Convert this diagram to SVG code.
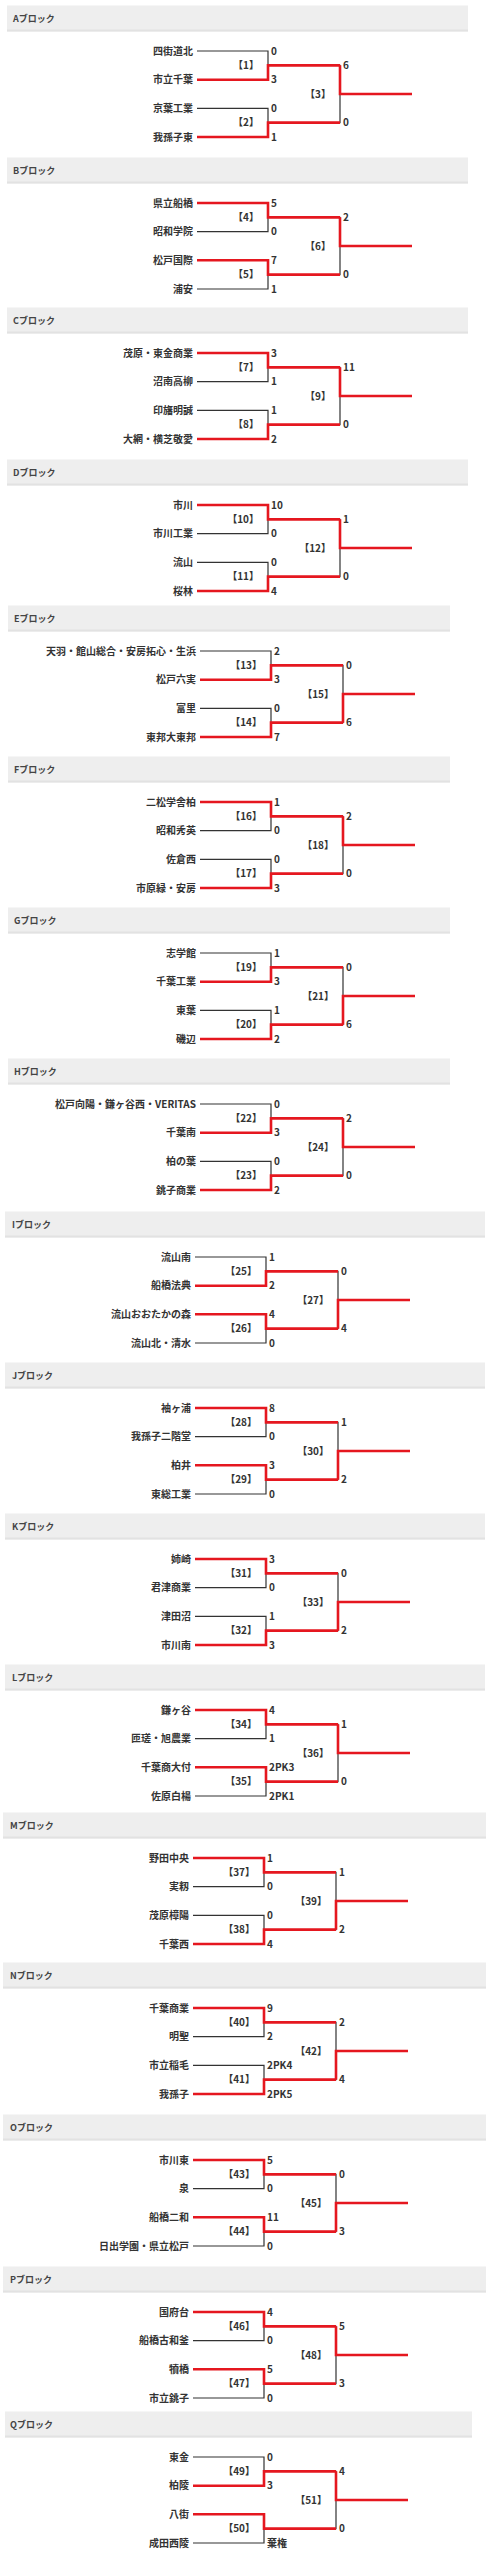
<svg xmlns="http://www.w3.org/2000/svg" xmlns:xlink="http://www.w3.org/1999/xlink" width="488" height="2560" viewBox="0 0 488 2560">
<style>
text{font-family:"Noto Sans CJK JP","Noto Sans",sans-serif;fill:#333;font-weight:bold}
.tm{font-size:10px;text-anchor:end}
.sc{font-size:10px;text-anchor:start}
.mt{font-size:10px;text-anchor:end}
.hd{font-size:9px;fill:#444}
.hdr{fill:#eeeeee}
.hdb{fill:#e2e2e2}
.ln{fill:none;stroke:#333;stroke-width:1.2}
.win{fill:none;stroke:#e5171f;stroke-width:2.6}
</style>
<defs>
<path id="br" class="ln" d="M197 0H268V28.7H197M197 57.3H268V86H197M268 14.35H340V71.65H268M340 43H412"/>
<path id="w1t" class="win" d="M197 0H268V14.35H340"/>
<path id="w1b" class="win" d="M197 28.7H268V14.35H340"/>
<path id="w2t" class="win" d="M197 57.3H268V71.65H340"/>
<path id="w2b" class="win" d="M197 86H268V71.65H340"/>
<path id="wft" class="win" d="M340 14.35V43H412"/>
<path id="wfb" class="win" d="M340 71.65V43H412"/>
</defs>

<g id="block-A" transform="translate(0,51)">
<g id="A-header"><rect class="hdr" x="7" y="-45.5" width="461" height="26"/><rect class="hdb" x="7" y="-21.5" width="461" height="2"/><text class="hd" x="13" y="-29.5">Aブロック</text></g>
<g id="A-connectors"><use href="#br"/><use href="#w1b"/><use href="#w2b"/><use href="#wft"/></g>
<g id="A-t1"><text class="tm" x="193" y="3.5">四街道北</text><text class="sc" x="271" y="3.5">0</text></g>
<g id="A-t2"><text class="tm" x="193" y="32.2">市立千葉</text><text class="sc" x="271" y="32.2">3</text></g>
<g id="A-t3"><text class="tm" x="193" y="60.8">京葉工業</text><text class="sc" x="271" y="60.8">0</text></g>
<g id="A-t4"><text class="tm" x="193" y="89.5">我孫子東</text><text class="sc" x="271" y="89.5">1</text></g>
<g id="A-m1"><text class="mt" x="259" y="17.85">【1】</text><text class="sc" x="343" y="17.85">6</text></g>
<g id="A-m2"><text class="mt" x="259" y="75.15">【2】</text><text class="sc" x="343" y="75.15">0</text></g>
<g id="A-m3"><text class="mt" x="331" y="46.5">【3】</text></g>
</g>

<g id="block-B" transform="translate(0,203)">
<g id="B-header"><rect class="hdr" x="7" y="-45.5" width="461" height="26"/><rect class="hdb" x="7" y="-21.5" width="461" height="2"/><text class="hd" x="13" y="-29.5">Bブロック</text></g>
<g id="B-connectors"><use href="#br"/><use href="#w1t"/><use href="#w2t"/><use href="#wft"/></g>
<g id="B-t1"><text class="tm" x="193" y="3.5">県立船橋</text><text class="sc" x="271" y="3.5">5</text></g>
<g id="B-t2"><text class="tm" x="193" y="32.2">昭和学院</text><text class="sc" x="271" y="32.2">0</text></g>
<g id="B-t3"><text class="tm" x="193" y="60.8">松戸国際</text><text class="sc" x="271" y="60.8">7</text></g>
<g id="B-t4"><text class="tm" x="193" y="89.5">浦安</text><text class="sc" x="271" y="89.5">1</text></g>
<g id="B-m1"><text class="mt" x="259" y="17.85">【4】</text><text class="sc" x="343" y="17.85">2</text></g>
<g id="B-m2"><text class="mt" x="259" y="75.15">【5】</text><text class="sc" x="343" y="75.15">0</text></g>
<g id="B-m3"><text class="mt" x="331" y="46.5">【6】</text></g>
</g>

<g id="block-C" transform="translate(0,353)">
<g id="C-header"><rect class="hdr" x="7" y="-45.5" width="461" height="26"/><rect class="hdb" x="7" y="-21.5" width="461" height="2"/><text class="hd" x="13" y="-29.5">Cブロック</text></g>
<g id="C-connectors"><use href="#br"/><use href="#w1t"/><use href="#w2b"/><use href="#wft"/></g>
<g id="C-t1"><text class="tm" x="193" y="3.5">茂原・東金商業</text><text class="sc" x="271" y="3.5">3</text></g>
<g id="C-t2"><text class="tm" x="193" y="32.2">沼南高柳</text><text class="sc" x="271" y="32.2">1</text></g>
<g id="C-t3"><text class="tm" x="193" y="60.8">印旛明誠</text><text class="sc" x="271" y="60.8">1</text></g>
<g id="C-t4"><text class="tm" x="193" y="89.5">大網・横芝敬愛</text><text class="sc" x="271" y="89.5">2</text></g>
<g id="C-m1"><text class="mt" x="259" y="17.85">【7】</text><text class="sc" x="343" y="17.85">11</text></g>
<g id="C-m2"><text class="mt" x="259" y="75.15">【8】</text><text class="sc" x="343" y="75.15">0</text></g>
<g id="C-m3"><text class="mt" x="331" y="46.5">【9】</text></g>
</g>

<g id="block-D" transform="translate(0,505)">
<g id="D-header"><rect class="hdr" x="7" y="-45.5" width="461" height="26"/><rect class="hdb" x="7" y="-21.5" width="461" height="2"/><text class="hd" x="13" y="-29.5">Dブロック</text></g>
<g id="D-connectors"><use href="#br"/><use href="#w1t"/><use href="#w2b"/><use href="#wft"/></g>
<g id="D-t1"><text class="tm" x="193" y="3.5">市川</text><text class="sc" x="271" y="3.5">10</text></g>
<g id="D-t2"><text class="tm" x="193" y="32.2">市川工業</text><text class="sc" x="271" y="32.2">0</text></g>
<g id="D-t3"><text class="tm" x="193" y="60.8">流山</text><text class="sc" x="271" y="60.8">0</text></g>
<g id="D-t4"><text class="tm" x="193" y="89.5">桜林</text><text class="sc" x="271" y="89.5">4</text></g>
<g id="D-m1"><text class="mt" x="259" y="17.85">【10】</text><text class="sc" x="343" y="17.85">1</text></g>
<g id="D-m2"><text class="mt" x="259" y="75.15">【11】</text><text class="sc" x="343" y="75.15">0</text></g>
<g id="D-m3"><text class="mt" x="331" y="46.5">【12】</text></g>
</g>

<g id="block-E" transform="translate(3,651)">
<g id="E-header"><rect class="hdr" x="5" y="-45.5" width="442" height="26"/><rect class="hdb" x="5" y="-21.5" width="442" height="2"/><text class="hd" x="11" y="-29.5">Eブロック</text></g>
<g id="E-connectors"><use href="#br"/><use href="#w1b"/><use href="#w2b"/><use href="#wfb"/></g>
<g id="E-t1"><text class="tm" x="193" y="3.5">天羽・館山総合・安房拓心・生浜</text><text class="sc" x="271" y="3.5">2</text></g>
<g id="E-t2"><text class="tm" x="193" y="32.2">松戸六実</text><text class="sc" x="271" y="32.2">3</text></g>
<g id="E-t3"><text class="tm" x="193" y="60.8">富里</text><text class="sc" x="271" y="60.8">0</text></g>
<g id="E-t4"><text class="tm" x="193" y="89.5">東邦大東邦</text><text class="sc" x="271" y="89.5">7</text></g>
<g id="E-m1"><text class="mt" x="259" y="17.85">【13】</text><text class="sc" x="343" y="17.85">0</text></g>
<g id="E-m2"><text class="mt" x="259" y="75.15">【14】</text><text class="sc" x="343" y="75.15">6</text></g>
<g id="E-m3"><text class="mt" x="331" y="46.5">【15】</text></g>
</g>

<g id="block-F" transform="translate(3,802)">
<g id="F-header"><rect class="hdr" x="5" y="-45.5" width="442" height="26"/><rect class="hdb" x="5" y="-21.5" width="442" height="2"/><text class="hd" x="11" y="-29.5">Fブロック</text></g>
<g id="F-connectors"><use href="#br"/><use href="#w1t"/><use href="#w2b"/><use href="#wft"/></g>
<g id="F-t1"><text class="tm" x="193" y="3.5">二松学舎柏</text><text class="sc" x="271" y="3.5">1</text></g>
<g id="F-t2"><text class="tm" x="193" y="32.2">昭和秀英</text><text class="sc" x="271" y="32.2">0</text></g>
<g id="F-t3"><text class="tm" x="193" y="60.8">佐倉西</text><text class="sc" x="271" y="60.8">0</text></g>
<g id="F-t4"><text class="tm" x="193" y="89.5">市原緑・安房</text><text class="sc" x="271" y="89.5">3</text></g>
<g id="F-m1"><text class="mt" x="259" y="17.85">【16】</text><text class="sc" x="343" y="17.85">2</text></g>
<g id="F-m2"><text class="mt" x="259" y="75.15">【17】</text><text class="sc" x="343" y="75.15">0</text></g>
<g id="F-m3"><text class="mt" x="331" y="46.5">【18】</text></g>
</g>

<g id="block-G" transform="translate(3,953)">
<g id="G-header"><rect class="hdr" x="5" y="-45.5" width="442" height="26"/><rect class="hdb" x="5" y="-21.5" width="442" height="2"/><text class="hd" x="11" y="-29.5">Gブロック</text></g>
<g id="G-connectors"><use href="#br"/><use href="#w1b"/><use href="#w2b"/><use href="#wfb"/></g>
<g id="G-t1"><text class="tm" x="193" y="3.5">志学館</text><text class="sc" x="271" y="3.5">1</text></g>
<g id="G-t2"><text class="tm" x="193" y="32.2">千葉工業</text><text class="sc" x="271" y="32.2">3</text></g>
<g id="G-t3"><text class="tm" x="193" y="60.8">東葉</text><text class="sc" x="271" y="60.8">1</text></g>
<g id="G-t4"><text class="tm" x="193" y="89.5">磯辺</text><text class="sc" x="271" y="89.5">2</text></g>
<g id="G-m1"><text class="mt" x="259" y="17.85">【19】</text><text class="sc" x="343" y="17.85">0</text></g>
<g id="G-m2"><text class="mt" x="259" y="75.15">【20】</text><text class="sc" x="343" y="75.15">6</text></g>
<g id="G-m3"><text class="mt" x="331" y="46.5">【21】</text></g>
</g>

<g id="block-H" transform="translate(3,1104)">
<g id="H-header"><rect class="hdr" x="5" y="-45.5" width="442" height="26"/><rect class="hdb" x="5" y="-21.5" width="442" height="2"/><text class="hd" x="11" y="-29.5">Hブロック</text></g>
<g id="H-connectors"><use href="#br"/><use href="#w1b"/><use href="#w2b"/><use href="#wft"/></g>
<g id="H-t1"><text class="tm" x="193" y="3.5">松戸向陽・鎌ヶ谷西・VERITAS</text><text class="sc" x="271" y="3.5">0</text></g>
<g id="H-t2"><text class="tm" x="193" y="32.2">千葉南</text><text class="sc" x="271" y="32.2">3</text></g>
<g id="H-t3"><text class="tm" x="193" y="60.8">柏の葉</text><text class="sc" x="271" y="60.8">0</text></g>
<g id="H-t4"><text class="tm" x="193" y="89.5">銚子商業</text><text class="sc" x="271" y="89.5">2</text></g>
<g id="H-m1"><text class="mt" x="259" y="17.85">【22】</text><text class="sc" x="343" y="17.85">2</text></g>
<g id="H-m2"><text class="mt" x="259" y="75.15">【23】</text><text class="sc" x="343" y="75.15">0</text></g>
<g id="H-m3"><text class="mt" x="331" y="46.5">【24】</text></g>
</g>

<g id="block-I" transform="translate(-2,1257)">
<g id="I-header"><rect class="hdr" x="7" y="-45.5" width="480" height="26"/><rect class="hdb" x="7" y="-21.5" width="480" height="2"/><text class="hd" x="14" y="-29.5">Iブロック</text></g>
<g id="I-connectors"><use href="#br"/><use href="#w1b"/><use href="#w2t"/><use href="#wfb"/></g>
<g id="I-t1"><text class="tm" x="193" y="3.5">流山南</text><text class="sc" x="271" y="3.5">1</text></g>
<g id="I-t2"><text class="tm" x="193" y="32.2">船橋法典</text><text class="sc" x="271" y="32.2">2</text></g>
<g id="I-t3"><text class="tm" x="193" y="60.8">流山おおたかの森</text><text class="sc" x="271" y="60.8">4</text></g>
<g id="I-t4"><text class="tm" x="193" y="89.5">流山北・清水</text><text class="sc" x="271" y="89.5">0</text></g>
<g id="I-m1"><text class="mt" x="259" y="17.85">【25】</text><text class="sc" x="343" y="17.85">0</text></g>
<g id="I-m2"><text class="mt" x="259" y="75.15">【26】</text><text class="sc" x="343" y="75.15">4</text></g>
<g id="I-m3"><text class="mt" x="331" y="46.5">【27】</text></g>
</g>

<g id="block-J" transform="translate(-2,1408)">
<g id="J-header"><rect class="hdr" x="7" y="-45.5" width="480" height="26"/><rect class="hdb" x="7" y="-21.5" width="480" height="2"/><text class="hd" x="14" y="-29.5">Jブロック</text></g>
<g id="J-connectors"><use href="#br"/><use href="#w1t"/><use href="#w2t"/><use href="#wfb"/></g>
<g id="J-t1"><text class="tm" x="193" y="3.5">袖ヶ浦</text><text class="sc" x="271" y="3.5">8</text></g>
<g id="J-t2"><text class="tm" x="193" y="32.2">我孫子二階堂</text><text class="sc" x="271" y="32.2">0</text></g>
<g id="J-t3"><text class="tm" x="193" y="60.8">柏井</text><text class="sc" x="271" y="60.8">3</text></g>
<g id="J-t4"><text class="tm" x="193" y="89.5">東総工業</text><text class="sc" x="271" y="89.5">0</text></g>
<g id="J-m1"><text class="mt" x="259" y="17.85">【28】</text><text class="sc" x="343" y="17.85">1</text></g>
<g id="J-m2"><text class="mt" x="259" y="75.15">【29】</text><text class="sc" x="343" y="75.15">2</text></g>
<g id="J-m3"><text class="mt" x="331" y="46.5">【30】</text></g>
</g>

<g id="block-K" transform="translate(-2,1559)">
<g id="K-header"><rect class="hdr" x="7" y="-45.5" width="480" height="26"/><rect class="hdb" x="7" y="-21.5" width="480" height="2"/><text class="hd" x="14" y="-29.5">Kブロック</text></g>
<g id="K-connectors"><use href="#br"/><use href="#w1t"/><use href="#w2b"/><use href="#wfb"/></g>
<g id="K-t1"><text class="tm" x="193" y="3.5">姉崎</text><text class="sc" x="271" y="3.5">3</text></g>
<g id="K-t2"><text class="tm" x="193" y="32.2">君津商業</text><text class="sc" x="271" y="32.2">0</text></g>
<g id="K-t3"><text class="tm" x="193" y="60.8">津田沼</text><text class="sc" x="271" y="60.8">1</text></g>
<g id="K-t4"><text class="tm" x="193" y="89.5">市川南</text><text class="sc" x="271" y="89.5">3</text></g>
<g id="K-m1"><text class="mt" x="259" y="17.85">【31】</text><text class="sc" x="343" y="17.85">0</text></g>
<g id="K-m2"><text class="mt" x="259" y="75.15">【32】</text><text class="sc" x="343" y="75.15">2</text></g>
<g id="K-m3"><text class="mt" x="331" y="46.5">【33】</text></g>
</g>

<g id="block-L" transform="translate(-2,1710)">
<g id="L-header"><rect class="hdr" x="7" y="-45.5" width="480" height="26"/><rect class="hdb" x="7" y="-21.5" width="480" height="2"/><text class="hd" x="14" y="-29.5">Lブロック</text></g>
<g id="L-connectors"><use href="#br"/><use href="#w1t"/><use href="#w2t"/><use href="#wft"/></g>
<g id="L-t1"><text class="tm" x="193" y="3.5">鎌ヶ谷</text><text class="sc" x="271" y="3.5">4</text></g>
<g id="L-t2"><text class="tm" x="193" y="32.2">匝瑳・旭農業</text><text class="sc" x="271" y="32.2">1</text></g>
<g id="L-t3"><text class="tm" x="193" y="60.8">千葉商大付</text><text class="sc" x="271" y="60.8">2PK3</text></g>
<g id="L-t4"><text class="tm" x="193" y="89.5">佐原白楊</text><text class="sc" x="271" y="89.5">2PK1</text></g>
<g id="L-m1"><text class="mt" x="259" y="17.85">【34】</text><text class="sc" x="343" y="17.85">1</text></g>
<g id="L-m2"><text class="mt" x="259" y="75.15">【35】</text><text class="sc" x="343" y="75.15">0</text></g>
<g id="L-m3"><text class="mt" x="331" y="46.5">【36】</text></g>
</g>

<g id="block-M" transform="translate(-4,1858)">
<g id="M-header"><rect class="hdr" x="7" y="-45.5" width="483" height="26"/><rect class="hdb" x="7" y="-21.5" width="483" height="2"/><text class="hd" x="14" y="-29.5">Mブロック</text></g>
<g id="M-connectors"><use href="#br"/><use href="#w1t"/><use href="#w2b"/><use href="#wfb"/></g>
<g id="M-t1"><text class="tm" x="193" y="3.5">野田中央</text><text class="sc" x="271" y="3.5">1</text></g>
<g id="M-t2"><text class="tm" x="193" y="32.2">実籾</text><text class="sc" x="271" y="32.2">0</text></g>
<g id="M-t3"><text class="tm" x="193" y="60.8">茂原樟陽</text><text class="sc" x="271" y="60.8">0</text></g>
<g id="M-t4"><text class="tm" x="193" y="89.5">千葉西</text><text class="sc" x="271" y="89.5">4</text></g>
<g id="M-m1"><text class="mt" x="259" y="17.85">【37】</text><text class="sc" x="343" y="17.85">1</text></g>
<g id="M-m2"><text class="mt" x="259" y="75.15">【38】</text><text class="sc" x="343" y="75.15">2</text></g>
<g id="M-m3"><text class="mt" x="331" y="46.5">【39】</text></g>
</g>

<g id="block-N" transform="translate(-4,2008)">
<g id="N-header"><rect class="hdr" x="7" y="-45.5" width="483" height="26"/><rect class="hdb" x="7" y="-21.5" width="483" height="2"/><text class="hd" x="14" y="-29.5">Nブロック</text></g>
<g id="N-connectors"><use href="#br"/><use href="#w1t"/><use href="#w2b"/><use href="#wfb"/></g>
<g id="N-t1"><text class="tm" x="193" y="3.5">千葉商業</text><text class="sc" x="271" y="3.5">9</text></g>
<g id="N-t2"><text class="tm" x="193" y="32.2">明聖</text><text class="sc" x="271" y="32.2">2</text></g>
<g id="N-t3"><text class="tm" x="193" y="60.8">市立稲毛</text><text class="sc" x="271" y="60.8">2PK4</text></g>
<g id="N-t4"><text class="tm" x="193" y="89.5">我孫子</text><text class="sc" x="271" y="89.5">2PK5</text></g>
<g id="N-m1"><text class="mt" x="259" y="17.85">【40】</text><text class="sc" x="343" y="17.85">2</text></g>
<g id="N-m2"><text class="mt" x="259" y="75.15">【41】</text><text class="sc" x="343" y="75.15">4</text></g>
<g id="N-m3"><text class="mt" x="331" y="46.5">【42】</text></g>
</g>

<g id="block-O" transform="translate(-4,2160)">
<g id="O-header"><rect class="hdr" x="7" y="-45.5" width="483" height="26"/><rect class="hdb" x="7" y="-21.5" width="483" height="2"/><text class="hd" x="14" y="-29.5">Oブロック</text></g>
<g id="O-connectors"><use href="#br"/><use href="#w1t"/><use href="#w2t"/><use href="#wfb"/></g>
<g id="O-t1"><text class="tm" x="193" y="3.5">市川東</text><text class="sc" x="271" y="3.5">5</text></g>
<g id="O-t2"><text class="tm" x="193" y="32.2">泉</text><text class="sc" x="271" y="32.2">0</text></g>
<g id="O-t3"><text class="tm" x="193" y="60.8">船橋二和</text><text class="sc" x="271" y="60.8">11</text></g>
<g id="O-t4"><text class="tm" x="193" y="89.5">日出学園・県立松戸</text><text class="sc" x="271" y="89.5">0</text></g>
<g id="O-m1"><text class="mt" x="259" y="17.85">【43】</text><text class="sc" x="343" y="17.85">0</text></g>
<g id="O-m2"><text class="mt" x="259" y="75.15">【44】</text><text class="sc" x="343" y="75.15">3</text></g>
<g id="O-m3"><text class="mt" x="331" y="46.5">【45】</text></g>
</g>

<g id="block-P" transform="translate(-4,2312)">
<g id="P-header"><rect class="hdr" x="7" y="-45.5" width="483" height="26"/><rect class="hdb" x="7" y="-21.5" width="483" height="2"/><text class="hd" x="14" y="-29.5">Pブロック</text></g>
<g id="P-connectors"><use href="#br"/><use href="#w1t"/><use href="#w2t"/><use href="#wft"/></g>
<g id="P-t1"><text class="tm" x="193" y="3.5">国府台</text><text class="sc" x="271" y="3.5">4</text></g>
<g id="P-t2"><text class="tm" x="193" y="32.2">船橋古和釜</text><text class="sc" x="271" y="32.2">0</text></g>
<g id="P-t3"><text class="tm" x="193" y="60.8">犢橋</text><text class="sc" x="271" y="60.8">5</text></g>
<g id="P-t4"><text class="tm" x="193" y="89.5">市立銚子</text><text class="sc" x="271" y="89.5">0</text></g>
<g id="P-m1"><text class="mt" x="259" y="17.85">【46】</text><text class="sc" x="343" y="17.85">5</text></g>
<g id="P-m2"><text class="mt" x="259" y="75.15">【47】</text><text class="sc" x="343" y="75.15">3</text></g>
<g id="P-m3"><text class="mt" x="331" y="46.5">【48】</text></g>
</g>

<g id="block-Q" transform="translate(-4,2457)">
<g id="Q-header"><rect class="hdr" x="9" y="-45.5" width="467" height="26"/><rect class="hdb" x="9" y="-21.5" width="467" height="2"/><text class="hd" x="14" y="-29.5">Qブロック</text></g>
<g id="Q-connectors"><use href="#br"/><use href="#w1b"/><use href="#w2t"/><use href="#wft"/></g>
<g id="Q-t1"><text class="tm" x="193" y="3.5">東金</text><text class="sc" x="271" y="3.5">0</text></g>
<g id="Q-t2"><text class="tm" x="193" y="32.2">柏陵</text><text class="sc" x="271" y="32.2">3</text></g>
<g id="Q-t3"><text class="tm" x="193" y="60.8">八街</text></g>
<g id="Q-t4"><text class="tm" x="193" y="89.5">成田西陵</text><text class="sc" x="271" y="89.5">棄権</text></g>
<g id="Q-m1"><text class="mt" x="259" y="17.85">【49】</text><text class="sc" x="343" y="17.85">4</text></g>
<g id="Q-m2"><text class="mt" x="259" y="75.15">【50】</text><text class="sc" x="343" y="75.15">0</text></g>
<g id="Q-m3"><text class="mt" x="331" y="46.5">【51】</text></g>
</g>
</svg>
